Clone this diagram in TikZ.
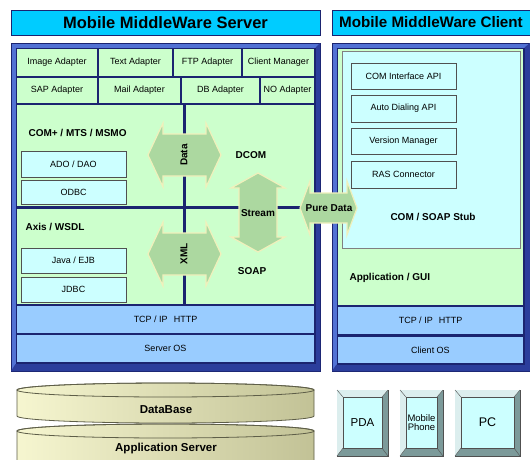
\documentclass[tikz,border=0pt]{standalone}
\usepackage{fontspec}
\setmainfont{Liberation Sans}
\usetikzlibrary{positioning}
\definecolor{titleCyan}{HTML}{00CCFF}
\definecolor{frameBlue}{HTML}{5272D4}
\definecolor{frameDeep}{HTML}{2B3D9C}
\definecolor{frameNavy}{HTML}{1B2470}
\definecolor{paleGreen}{HTML}{CCFFCC}
\definecolor{paleCyan}{HTML}{CCFFFF}
\definecolor{netBlue}{HTML}{99CCFF}
\definecolor{boxLine}{HTML}{505050}
\definecolor{arrowGreen}{HTML}{ACD8A0}
\definecolor{arrowLight}{HTML}{EAF8DC}
\definecolor{arrowRim}{HTML}{F0F0BC}
\definecolor{drumLight}{HTML}{F6F6D0}
\definecolor{drumDark}{HTML}{C2C296}
\definecolor{drumLine}{HTML}{5E5E48}
\definecolor{bevelLight}{HTML}{DCEEEE}
\definecolor{bevelDark}{HTML}{7C9A9A}
\begin{document}
\begin{tikzpicture}[x=1pt,y=-1pt,
  cell/.style={anchor=north west, inner sep=0pt, outer sep=0pt},
  small/.style={font=\fontsize{9}{10}\selectfont},
  heavy/.style={font=\bfseries\fontsize{10}{11}\selectfont},
  titletext/.style={font=\bfseries\fontsize{16.5}{18}\selectfont},
  apibox/.style={cell, fill=paleCyan, draw=boxLine, line width=0.8pt, small},
  flowH/.style={left color=arrowGreen, middle color=arrowLight, right color=arrowGreen, draw=arrowRim, line width=1.2pt},
  flowV/.style={top color=arrowGreen, middle color=arrowLight, bottom color=arrowGreen, draw=arrowRim, line width=1.2pt},
  drum/.style={left color=drumLight, right color=drumDark, draw=drumLine, line width=0.8pt}]
\path[use as bounding box, clip] (0,0) rectangle (530,459);
\fill[white] (0,0) rectangle (530,459);

% titles
\node[cell, fill=titleCyan, draw=frameNavy, line width=0.8pt, minimum width=309pt, minimum height=25pt, titletext] (srvTitle) at (11,10) {Mobile MiddleWare Server};
\node[cell, fill=titleCyan, draw=frameNavy, line width=0.8pt, minimum width=198pt, minimum height=25pt, titletext, font=\bfseries\fontsize{15.2}{17}\selectfont] (cliTitle) at (332,10) {Mobile MiddleWare Client};

% frames
\path[fill=frameBlue, draw=frameNavy, line width=1pt] (11,43) rectangle (320,371);
\fill[frameDeep] (11,371) -- (15.5,364) -- (315.5,364) -- (315.5,47.5) -- (320,43) -- (320,371) -- cycle;
\fill[frameNavy] (15.5,47.5) rectangle (315.5,364);
\path[fill=frameBlue, draw=frameNavy, line width=1pt] (332,43) rectangle (530,371);
\fill[frameDeep] (332,371) -- (336.5,364.5) -- (524.5,364.5) -- (524.5,47.5) -- (530,43) -- (530,371) -- cycle;
\fill[frameNavy] (336.5,47.5) rectangle (524.5,364.5);

% adapters
\node[cell, fill=paleGreen, minimum width=80pt, minimum height=26.5pt, small] (imgAd) at (17,49) {Image Adapter};
\node[cell, fill=paleGreen, minimum width=73pt, minimum height=26.5pt, small] (txtAd) at (99,49) {Text Adapter};
\node[cell, fill=paleGreen, minimum width=67pt, minimum height=26.5pt, small] (ftpAd) at (174,49) {FTP Adapter};
\node[cell, fill=paleGreen, minimum width=71pt, minimum height=26.5pt, small] (cliMgr) at (243,49) {Client Manager};
\node[cell, fill=paleGreen, minimum width=80pt, minimum height=25.5pt, small] (sapAd) at (17,77.5) {SAP Adapter};
\node[cell, fill=paleGreen, minimum width=81pt, minimum height=25.5pt, small] (mailAd) at (99,77.5) {Mail Adapter};
\node[cell, fill=paleGreen, minimum width=77pt, minimum height=25.5pt, small] (dbAd) at (182,77.5) {DB Adapter};
\node[cell, fill=paleGreen, minimum width=53pt, minimum height=25.5pt, small] (noAd) at (261,77.5) {NO Adapter};

% middle panels
\node[cell, fill=paleGreen, minimum width=166pt, minimum height=101pt] (comPanel) at (17,105) {};
\node[cell, fill=paleGreen, minimum width=166pt, minimum height=95pt] (axisPanel) at (17,209) {};
\node[cell, fill=paleGreen, minimum width=128pt, minimum height=101pt] (dcomPanel) at (186,105) {};
\node[cell, fill=paleGreen, minimum width=128pt, minimum height=95pt] (soapPanel) at (186,209) {};
\node[heavy, anchor=west] (comLbl) at (25,133) {COM+ / MTS / MSMO};
\node[heavy, anchor=west] (axisLbl) at (22,227) {Axis / WSDL};
\node[heavy] (dcomLbl) at (251,155) {DCOM};
\node[heavy] (soapLbl) at (252,271) {SOAP};
\node[apibox, minimum width=105pt, minimum height=26pt] (adoBox) at (21,151) {ADO / DAO};
\node[apibox, minimum width=105pt, minimum height=24pt] (odbcBox) at (21,180) {ODBC};
\node[apibox, minimum width=105pt, minimum height=25pt] (javaBox) at (21,248) {Java / EJB};
\node[apibox, minimum width=105pt, minimum height=25pt] (jdbcBox) at (21,277) {JDBC};

% network and os
\node[cell, fill=netBlue, minimum width=297pt, minimum height=27pt, small] (srvTcp) at (17,306) {TCP / IP\hspace{6pt}HTTP};
\node[cell, fill=netBlue, minimum width=297pt, minimum height=27pt, small] (srvOS) at (17,335) {Server OS};

% client side
\node[cell, fill=paleGreen, minimum width=185pt, minimum height=256pt] (cliArea) at (338,49) {};
\node[cell, fill=paleCyan, draw=gray, line width=0.8pt, minimum width=178pt, minimum height=197pt] (stubBox) at (342,51) {};
\node[apibox, minimum width=105pt, minimum height=26pt] (comApi) at (351,63) {COM Interface API};
\node[apibox, minimum width=105pt, minimum height=27pt] (dialApi) at (351,95) {Auto Dialing API};
\node[apibox, minimum width=105pt, minimum height=26pt] (verMgr) at (351,128) {Version Manager};
\node[apibox, minimum width=105pt, minimum height=27pt] (rasConn) at (351,161) {RAS Connector};
\node[heavy] (stubLbl) at (433,217) {COM / SOAP Stub};
\node[heavy, anchor=west] (guiLbl) at (346,278) {Application / GUI};
\node[cell, fill=netBlue, minimum width=185pt, minimum height=27pt, small] (cliTcp) at (338,307) {TCP / IP\hspace{6pt}HTTP};
\node[cell, fill=netBlue, minimum width=185pt, minimum height=26pt, small] (cliOS) at (338,337) {Client OS};

% flow arrows
\path[flowH] (148,155) -- (163,123) -- (163,134) -- (206,134) -- (206,123) -- (221,155) -- (206,187) -- (206,176) -- (163,176) -- (163,187) -- cycle;
\node[heavy, rotate=90] (dataLbl) at (184,155) {Data};
\path[flowH] (148,254) -- (163,222) -- (163,233) -- (206,233) -- (206,222) -- (221,254) -- (206,286) -- (206,275) -- (163,275) -- (163,286) -- cycle;
\node[heavy, rotate=90] (xmlLbl) at (184,254) {XML};
\path[flowV] (258,173) -- (231,188) -- (239,188) -- (239,237) -- (231,237) -- (258,252) -- (285,237) -- (277,237) -- (277,188) -- (285,188) -- cycle;
\node[heavy] (streamLbl) at (258,213) {Stream};
\path[flowH] (300,208) -- (310,181) -- (310,193) -- (347,193) -- (347,181) -- (357,208) -- (347,235) -- (347,223) -- (310,223) -- (310,235) -- cycle;
\node[heavy] (pureLbl) at (329,208) {Pure Data};

% storage drums
\path[drum] (17,431) -- (17,470) -- (314,470) -- (314,431) arc[start angle=0, end angle=180, x radius=148.5pt, y radius=7pt] -- cycle;
\draw[drumLine, line width=0.8pt] (165.5,431) ellipse [x radius=148.5pt, y radius=7pt];
\node[font=\bfseries\fontsize{11.5}{13}\selectfont] (appLbl) at (166,449) {Application Server};
\path[drum] (17,390) -- (17,416) arc[start angle=180, end angle=360, x radius=148.5pt, y radius=7pt] -- (314,390) arc[start angle=0, end angle=180, x radius=148.5pt, y radius=7pt] -- cycle;
\draw[drumLine, line width=0.8pt] (165.5,390) ellipse [x radius=148.5pt, y radius=7pt];
\node[font=\bfseries\fontsize{11.5}{13}\selectfont] (dbLbl) at (166,410) {DataBase};

% devices
\foreach \xa/\xb/\nm/\txt/\fs in {337/388/pda/PDA/11.5, 400/443/phone/{Mobile\\Phone}/9.5, 455/520/pc/PC/12.5}{
  \path[fill=bevelDark, draw=boxLine, line width=0.8pt] (\xa,390) rectangle (\xb,456);
  \fill[bevelLight] (\xa,456) -- (\xa,390) -- (\xb,390) -- (\xb-6,397) -- (\xa+6,397) -- (\xa+6,448) -- cycle;
  \draw[boxLine, line width=0.4pt] (\xa,390) -- (\xa+6,397) (\xb,390) -- (\xb-6,397) (\xa,456) -- (\xa+6,448) (\xb,456) -- (\xb-6,448);
  \node[cell, fill=paleCyan, draw=boxLine, line width=0.6pt, minimum width=\xb-\xa-12, minimum height=51pt, align=center, font=\fontsize{\fs}{\fs}\selectfont] (dev-\nm) at (\xa+6,397) {\txt};
}
\end{tikzpicture}
\end{document}
